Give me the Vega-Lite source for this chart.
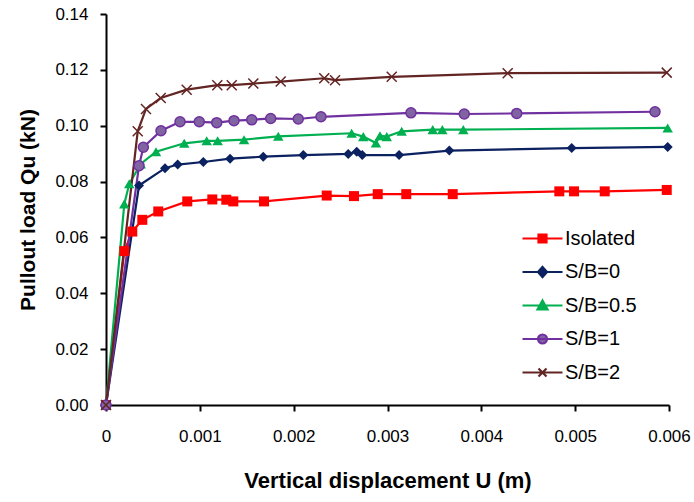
{
  "$schema": "https://vega.github.io/schema/vega-lite/v6.json",
  "width": 563,
  "height": 391,
  "autosize": {"type": "none"},
  "padding": {"left": 106, "top": 14, "right": 25, "bottom": 97},
  "background": "white",
  "config": {
    "view": {"stroke": null},
    "font": "Liberation Sans",
    "axis": {
      "grid": false,
      "domainColor": "black",
      "domainWidth": 2,
      "tickColor": "black",
      "tickWidth": 2,
      "tickSize": 6,
      "labelFont": "Liberation Sans",
      "labelFontSize": 17,
      "labelColor": "black",
      "titleFont": "Liberation Sans",
      "titleFontSize": 21,
      "titleFontWeight": "bold",
      "titleColor": "black"
    }
  },
  "data": {
    "values": [
      {"s": "Isolated", "u": 0, "q": 0},
      {"s": "Isolated", "u": 0.000195, "q": 0.0551},
      {"s": "Isolated", "u": 0.00028, "q": 0.0621},
      {"s": "Isolated", "u": 0.000387, "q": 0.0663},
      {"s": "Isolated", "u": 0.000557, "q": 0.0693},
      {"s": "Isolated", "u": 0.000866, "q": 0.0729},
      {"s": "Isolated", "u": 0.001133, "q": 0.0736},
      {"s": "Isolated", "u": 0.001282, "q": 0.0735},
      {"s": "Isolated", "u": 0.001357, "q": 0.0729},
      {"s": "Isolated", "u": 0.001684, "q": 0.0729},
      {"s": "Isolated", "u": 0.002352, "q": 0.075},
      {"s": "Isolated", "u": 0.002643, "q": 0.0748},
      {"s": "Isolated", "u": 0.002896, "q": 0.0755},
      {"s": "Isolated", "u": 0.0032, "q": 0.0755},
      {"s": "Isolated", "u": 0.003695, "q": 0.0755},
      {"s": "Isolated", "u": 0.004831, "q": 0.0765},
      {"s": "Isolated", "u": 0.004988, "q": 0.0765},
      {"s": "Isolated", "u": 0.005315, "q": 0.0765},
      {"s": "Isolated", "u": 0.005976, "q": 0.077},
      {"s": "S/B=0", "u": 0, "q": 0},
      {"s": "S/B=0", "u": 0.000352, "q": 0.0786},
      {"s": "S/B=0", "u": 0.000629, "q": 0.0848},
      {"s": "S/B=0", "u": 0.000764, "q": 0.0861},
      {"s": "S/B=0", "u": 0.001037, "q": 0.087},
      {"s": "S/B=0", "u": 0.001322, "q": 0.0882},
      {"s": "S/B=0", "u": 0.001676, "q": 0.0889},
      {"s": "S/B=0", "u": 0.002103, "q": 0.0895},
      {"s": "S/B=0", "u": 0.002582, "q": 0.0899},
      {"s": "S/B=0", "u": 0.002672, "q": 0.0907},
      {"s": "S/B=0", "u": 0.002731, "q": 0.0895},
      {"s": "S/B=0", "u": 0.003123, "q": 0.0895},
      {"s": "S/B=0", "u": 0.003659, "q": 0.0911},
      {"s": "S/B=0", "u": 0.004963, "q": 0.092},
      {"s": "S/B=0", "u": 0.005986, "q": 0.0924},
      {"s": "S/B=0.5", "u": 0, "q": 0},
      {"s": "S/B=0.5", "u": 0.000195, "q": 0.072},
      {"s": "S/B=0.5", "u": 0.000248, "q": 0.0792},
      {"s": "S/B=0.5", "u": 0.00037, "q": 0.0863},
      {"s": "S/B=0.5", "u": 0.000533, "q": 0.0907},
      {"s": "S/B=0.5", "u": 0.000834, "q": 0.0937},
      {"s": "S/B=0.5", "u": 0.001073, "q": 0.0946},
      {"s": "S/B=0.5", "u": 0.00119, "q": 0.0946},
      {"s": "S/B=0.5", "u": 0.001471, "q": 0.095},
      {"s": "S/B=0.5", "u": 0.001836, "q": 0.0962},
      {"s": "S/B=0.5", "u": 0.002618, "q": 0.0973},
      {"s": "S/B=0.5", "u": 0.002742, "q": 0.0961},
      {"s": "S/B=0.5", "u": 0.002877, "q": 0.0938},
      {"s": "S/B=0.5", "u": 0.00292, "q": 0.0964},
      {"s": "S/B=0.5", "u": 0.002992, "q": 0.0961},
      {"s": "S/B=0.5", "u": 0.003151, "q": 0.098},
      {"s": "S/B=0.5", "u": 0.003482, "q": 0.0986},
      {"s": "S/B=0.5", "u": 0.003584, "q": 0.0986},
      {"s": "S/B=0.5", "u": 0.003808, "q": 0.0986},
      {"s": "S/B=0.5", "u": 0.005986, "q": 0.0992},
      {"s": "S/B=1", "u": 0, "q": 0},
      {"s": "S/B=1", "u": 0.000352, "q": 0.0857},
      {"s": "S/B=1", "u": 0.000398, "q": 0.0923},
      {"s": "S/B=1", "u": 0.000586, "q": 0.0982},
      {"s": "S/B=1", "u": 0.000789, "q": 0.1014},
      {"s": "S/B=1", "u": 0.000994, "q": 0.1014},
      {"s": "S/B=1", "u": 0.00118, "q": 0.1011},
      {"s": "S/B=1", "u": 0.001364, "q": 0.1018},
      {"s": "S/B=1", "u": 0.001553, "q": 0.1021},
      {"s": "S/B=1", "u": 0.001755, "q": 0.1026},
      {"s": "S/B=1", "u": 0.002049, "q": 0.1024},
      {"s": "S/B=1", "u": 0.002291, "q": 0.1032},
      {"s": "S/B=1", "u": 0.00325, "q": 0.1046},
      {"s": "S/B=1", "u": 0.003818, "q": 0.1042},
      {"s": "S/B=1", "u": 0.004377, "q": 0.1044},
      {"s": "S/B=1", "u": 0.005851, "q": 0.105},
      {"s": "S/B=2", "u": 0, "q": 0},
      {"s": "S/B=2", "u": 0.000338, "q": 0.098},
      {"s": "S/B=2", "u": 0.000426, "q": 0.106},
      {"s": "S/B=2", "u": 0.000583, "q": 0.1099},
      {"s": "S/B=2", "u": 0.00086, "q": 0.1129},
      {"s": "S/B=2", "u": 0.001186, "q": 0.1145},
      {"s": "S/B=2", "u": 0.00134, "q": 0.1145},
      {"s": "S/B=2", "u": 0.00157, "q": 0.1151},
      {"s": "S/B=2", "u": 0.001862, "q": 0.1158},
      {"s": "S/B=2", "u": 0.002326, "q": 0.117},
      {"s": "S/B=2", "u": 0.002441, "q": 0.1163},
      {"s": "S/B=2", "u": 0.003045, "q": 0.1175},
      {"s": "S/B=2", "u": 0.004281, "q": 0.1188},
      {"s": "S/B=2", "u": 0.005976, "q": 0.119}
    ]
  },
  "encoding": {
    "x": {
      "field": "u", "type": "quantitative",
      "scale": {"domain": [0, 0.006], "nice": false, "zero": false},
      "axis": {
        "title": "Vertical displacement U (m)",
        "titleFontSize": 22,
        "values": [0, 0.001, 0.002, 0.003, 0.004, 0.005, 0.006],
        "labelExpr": "datum.value == 0 ? '0' : format(datum.value, '.3f')",
        "labelPadding": 17,
        "titlePadding": 26,
        "labelFlush": false
      }
    },
    "y": {
      "field": "q", "type": "quantitative",
      "scale": {"domain": [0, 0.14], "nice": false},
      "axis": {
        "title": "Pullout load Qu (kN)",
        "values": [0, 0.02, 0.04, 0.06, 0.08, 0.1, 0.12, 0.14],
        "format": ".2f",
        "labelPadding": 12,
        "titlePadding": 16
      }
    }
  },
  "layer": [
    {
      "mark": {"type": "line", "strokeWidth": 2.2},
      "encoding": {
        "color": {
          "field": "s", "type": "nominal",
          "scale": {
            "domain": ["Isolated", "S/B=0", "S/B=0.5", "S/B=1", "S/B=2"],
            "range": ["#FF0000", "#0B2160", "#00B050", "#7030A0", "#632523"]
          },
          "legend": {
            "title": null,
            "orient": "none",
            "legendX": 425,
            "legendY": 213,
            "padding": 0,
            "symbolSize": 400,
            "labelOffset": 11,
            "rowPadding": 11.5,
            "labelFont": "Liberation Sans",
            "labelFontSize": 20,
            "labelColor": "black",
            "labelLimit": 300,
            "encode": {
              "symbols": {
                "update": {
                  "shape": {"signal": "datum.value == 'Isolated' ? 'M-2,0H2M-0.4,-0.4H0.4V0.4H-0.4Z' : datum.value == 'S/B=0' ? 'M-2,0H2M0,-0.5L0.45,0L0,0.5L-0.45,0Z' : datum.value == 'S/B=0.5' ? 'M-2,0H2M0,-0.5L0.5,0.4H-0.5Z' : datum.value == 'S/B=1' ? 'M-2,0H2M0.45,0A0.45,0.45 0 1,1 -0.45,0A0.45,0.45 0 1,1 0.45,0Z' : 'M-2,0H2M-0.4,-0.4L0.4,0.4M-0.4,0.4L0.4,-0.4'"},
                  "fill": {"signal": "datum.value == 'Isolated' ? '#FF0000' : datum.value == 'S/B=0' ? '#0B2160' : datum.value == 'S/B=0.5' ? '#00B050' : datum.value == 'S/B=1' ? '#8064A2' : 'transparent'"},
                  "stroke": {"scale": "color", "field": "value"},
                  "strokeWidth": {"value": 2.2},
                  "opacity": {"value": 1}
                }
              }
            }
          }
        }
      }
    },
    {
      "transform": [{"filter": "datum.s == 'Isolated'"}],
      "mark": {"type": "point", "shape": "square", "size": 100, "filled": true, "color": "#FF0000", "opacity": 1}
    },
    {
      "transform": [{"filter": "datum.s == 'S/B=0'"}],
      "mark": {"type": "point", "shape": "diamond", "size": 100, "filled": true, "color": "#0B2160", "opacity": 1}
    },
    {
      "transform": [{"filter": "datum.s == 'S/B=0.5'"}],
      "mark": {"type": "point", "shape": "triangle-up", "size": 110, "filled": true, "color": "#00B050", "opacity": 1}
    },
    {
      "transform": [{"filter": "datum.s == 'S/B=1'"}],
      "mark": {"type": "point", "shape": "circle", "size": 100, "filled": true, "fill": "#8064A2", "stroke": "#7030A0", "strokeWidth": 1.5, "opacity": 1}
    },
    {
      "transform": [{"filter": "datum.s == 'S/B=2'"}],
      "mark": {"type": "point", "shape": "M-1,-1L1,1M-1,1L1,-1", "size": 100, "filled": false, "color": "#632523", "strokeWidth": 1.5, "opacity": 1}
    }
  ]
}
